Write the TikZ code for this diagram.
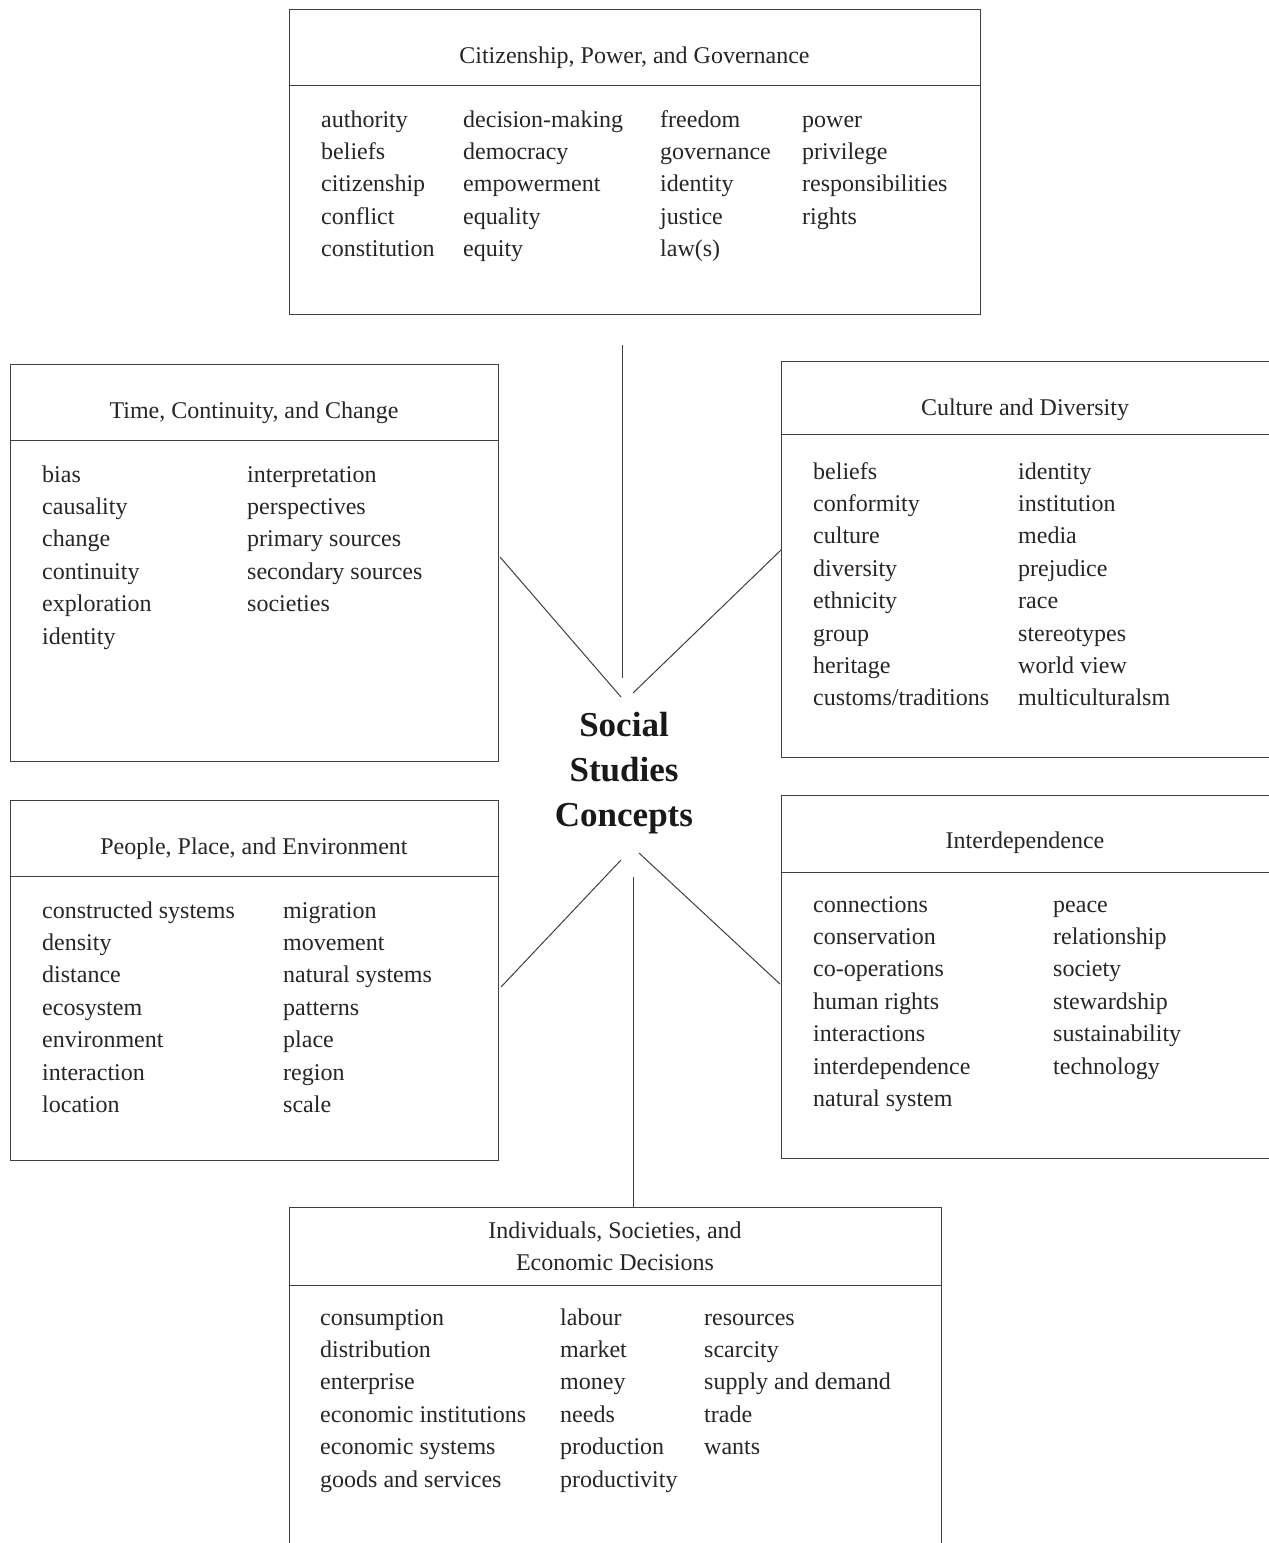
\documentclass[tikz,border=0pt]{standalone}
\usepackage{fontspec}
\setmainfont{Liberation Serif}
\usepackage{xcolor}
\usepackage{tikz}
\usetikzlibrary{calc}

\tikzset{
  box/.style={draw=black!75, line width=1pt, rectangle, inner sep=0pt},
  head/.style={text=black!85, font=\fontsize{24}{32}\selectfont, align=center, inner sep=0pt},
  term/.style={text=black!85, font=\fontsize{24}{32}\selectfont, anchor=base west, inner sep=0pt},
  hub/.style={text=black!90, font=\fontsize{35}{45}\selectfont\bfseries, align=center, inner sep=0pt},
  link/.style={draw=black!75, line width=1pt}
}
% one column of terms: name, x, y of first row, list
\newcommand{\termcol}[4]{\foreach \w [count=\i from 0] in {#4}
  \node[term] (#1-\i) at (#2, {#3+8+32.4*\i}) {\w};}

\begin{document}
\begin{tikzpicture}[x=1pt, y=-1pt]
\useasboundingbox (0,0) rectangle (1269,1543);
\clip (0,0) rectangle (1269,1543);
\fill[white] (0,0) rectangle (1269,1543);

% boxes
\node[box, minimum width=691pt, minimum height=305pt] (cpg) at (634.5,161.5) {};
\node[box, minimum width=488pt, minimum height=397pt] (tcc) at (254,562.5) {};
\node[box, minimum width=500pt, minimum height=396pt] (cd) at (1031,559) {};
\node[box, minimum width=488pt, minimum height=360pt] (ppe) at (254,980) {};
\node[box, minimum width=500pt, minimum height=363pt] (int) at (1031,976.5) {};
\node[box, minimum width=652pt, minimum height=373pt] (ised) at (615,1393.5) {};

\draw[link] (cpg.west |- 0,85) -- (cpg.east |- 0,85);
\draw[link] (tcc.west |- 0,440) -- (tcc.east |- 0,440);
\draw[link] (cd.west |- 0,434) -- (cd.east |- 0,434);
\draw[link] (ppe.west |- 0,876) -- (ppe.east |- 0,876);
\draw[link] (int.west |- 0,872) -- (int.east |- 0,872);
\draw[link] (ised.west |- 0,1285) -- (ised.east |- 0,1285);

% headings
\node[head] (cpg-t) at (634.5,58) {Citizenship, Power, and Governance};
\node[head] (tcc-t) at (254,413) {Time, Continuity, and Change};
\node[head] (cd-t) at (1025,410) {Culture and Diversity};
\node[head] (ppe-t) at (254,849) {People, Place, and Environment};
\node[head] (int-t) at (1025,843) {Interdependence};
\node[head] (ised-t) at (615,1246) {Individuals, Societies, and\\Economic Decisions};

\node[hub] (hub) at (624,773) {Social\\Studies\\Concepts};

% terms
\termcol{cpga}{321}{119}{authority, beliefs, citizenship, conflict, constitution}
\termcol{cpgb}{463}{119}{decision-making, democracy, empowerment, equality, equity}
\termcol{cpgc}{660}{119}{freedom, governance, identity, justice, law(s)}
\termcol{cpgd}{802}{119}{power, privilege, responsibilities, rights}

\termcol{tcca}{42}{474}{bias, causality, change, continuity, exploration, identity}
\termcol{tccb}{247}{474}{interpretation, perspectives, primary sources, secondary sources, societies}

\termcol{cda}{813}{471}{beliefs, conformity, culture, diversity, ethnicity, group, heritage, customs/traditions}
\termcol{cdb}{1018}{471}{identity, institution, media, prejudice, race, stereotypes, world view, multiculturalsm}

\termcol{ppea}{42}{910}{constructed systems, density, distance, ecosystem, environment, interaction, location}
\termcol{ppeb}{283}{910}{migration, movement, natural systems, patterns, place, region, scale}

\termcol{inta}{813}{904}{connections, conservation, co-operations, human rights, interactions, interdependence, natural system}
\termcol{intb}{1053}{904}{peace, relationship, society, stewardship, sustainability, technology}

\termcol{iseda}{320}{1317}{consumption, distribution, enterprise, economic institutions, economic systems, goods and services}
\termcol{isedb}{560}{1317}{labour, market, money, needs, production, productivity}
\termcol{isedc}{704}{1317}{resources, scarcity, supply and demand, trade, wants}

% spokes
\coordinate (hub-n) at (622,678);
\coordinate (cpg-s) at (622,345);
\coordinate (hub-nw) at (621,697);
\coordinate (tcc-e) at (500,557);
\coordinate (hub-ne) at (633,693);
\coordinate (cd-w) at (781,550);
\coordinate (hub-sw) at (621,860);
\coordinate (ppe-e) at (501,987);
\coordinate (hub-se) at (639,853);
\coordinate (int-w) at (780,984);
\coordinate (hub-s) at (633,877);
\draw[link] (hub-n) -- (cpg-s);
\draw[link] (hub-nw) -- (tcc-e);
\draw[link] (hub-ne) -- (cd-w);
\draw[link] (hub-sw) -- (ppe-e);
\draw[link] (hub-se) -- (int-w);
\draw[link] (hub-s) -- (hub-s |- ised.north);
\end{tikzpicture}
\end{document}
